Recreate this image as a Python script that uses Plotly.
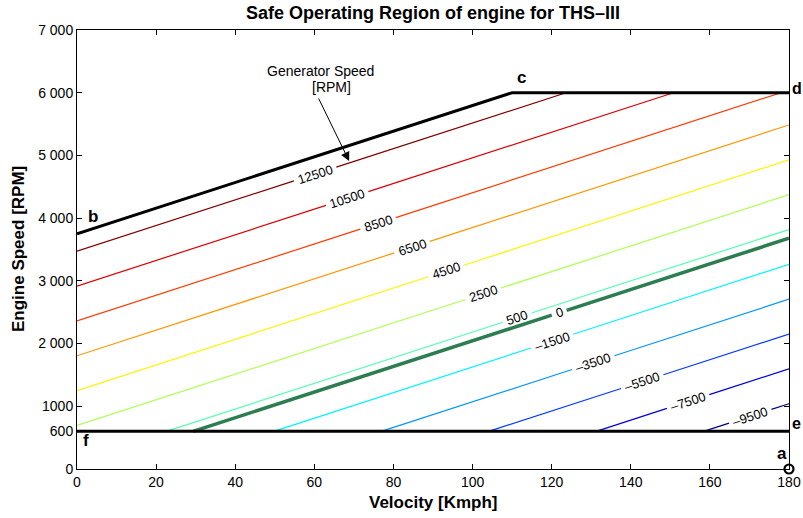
import math
import plotly.graph_objects as go

# Operating-region boundary: velocity [km/h] vs engine speed [rpm]
upper_v = [0, 110, 180]
upper_rpm = [3750, 6000, 6000]
idle_v = [0, 180]
idle_rpm = [600, 600]

# Generator-speed contour levels [rpm] and label positions along velocity
levels = [12500, 10500, 8500, 6500, 4500, 2500, 500, -1500, -3500, -5500, -7500, -9500]
label_v = [60.2, 68.3, 76.1, 84.7, 93.3, 102.7, 111.3, 120.1, 130.5, 142.9, 154.5, 170.2]
zero_level = 0
zero_label_v = 121.9

# Corner markers of the region
corner_names = ["a", "b", "c", "d", "e", "f"]
corner_v = [180, 0, 110, 180, 180, 0]
corner_rpm = [0, 3750, 6000, 6000, 600, 600]

# x / y tick labels
x_ticks = [0, 20, 40, 60, 80, 100, 120, 140, 160, 180]
y_ticks = [0, 600, 1000, 2000, 3000, 4000, 5000, 6000, 7000]
y_ticktext = ["0", "600", "1000", "2 000", "3 000", "4 000", "5 000", "6 000", "7 000"]

# Planetary relation: Ng = K_E * Ne - K_V * v
K_E = 3.6
K_V = 73.6
NE_MIN, NE_MAX = 600, 6000
V_MAX = 180

W, H = 803, 518
ML, MR, MT, MB = 77, 14, 30, 49
PW, PH = W - ML - MR, H - MT - MB
X_RANGE = (0, 180)
Y_RANGE = (0, 7000)
px_x = PW / (X_RANGE[1] - X_RANGE[0])
px_y = PH / (Y_RANGE[1] - Y_RANGE[0])
angle = math.degrees(math.atan((K_V / K_E) * px_y / px_x))

FONT = "Liberation Sans, Arial, Helvetica, sans-serif"
LABEL_SIZE = 13


def jet(t):
    def c(x):
        return max(0.0, min(1.0, x))
    r = c(1.5 - abs(4 * t - 3))
    g = c(1.5 - abs(4 * t - 2))
    b = c(1.5 - abs(4 * t - 1))
    return f"rgb({round(r * 255)},{round(g * 255)},{round(b * 255)})"


def engine_rpm(level, v):
    return (level + K_V * v) / K_E


def fmt(level):
    return ("\u2013" + str(-level)) if level < 0 else str(level)


def line_with_gap(level, lv, text):
    v0 = max(0.0, (K_E * NE_MIN - level) / K_V)
    v1 = min(V_MAX, (K_E * NE_MAX - level) / K_V)
    gap_px = len(text) * 0.556 * LABEL_SIZE * math.cos(math.radians(angle)) + 8
    g = gap_px / 2 / px_x
    xs = [v0, lv - g, None, lv + g, v1]
    ys = [engine_rpm(level, x) if x is not None else None for x in xs]
    return xs, ys


fig = go.Figure()
annotations = []

lo, hi = min(levels), max(levels)
for level, lv in zip(levels, label_v):
    text = fmt(level)
    xs, ys = line_with_gap(level, lv, text)
    color = jet((level - lo) / (hi - lo))
    fig.add_trace(go.Scatter(x=xs, y=ys, mode="lines",
                             line=dict(color=color, width=1.2),
                             hoverinfo="skip", showlegend=False))
    annotations.append(dict(x=lv, y=engine_rpm(level, lv), text=text,
                            textangle=-angle, showarrow=False,
                            xanchor="center", yanchor="middle",
                            font=dict(size=LABEL_SIZE, color="black", family=FONT)))

# zero generator-speed line
zt = fmt(zero_level)
xs, ys = line_with_gap(zero_level, zero_label_v, zt)
fig.add_trace(go.Scatter(x=xs, y=ys, mode="lines",
                         line=dict(color="rgb(44,125,80)", width=3.5),
                         hoverinfo="skip", showlegend=False))
annotations.append(dict(x=zero_label_v, y=engine_rpm(zero_level, zero_label_v), text=zt,
                        textangle=-angle, showarrow=False,
                        xanchor="center", yanchor="middle",
                        font=dict(size=LABEL_SIZE, color="black", family=FONT)))

# region boundaries
fig.add_trace(go.Scatter(x=upper_v, y=upper_rpm, mode="lines",
                         line=dict(color="black", width=3),
                         hoverinfo="skip", showlegend=False))
fig.add_trace(go.Scatter(x=idle_v, y=idle_rpm, mode="lines",
                         line=dict(color="black", width=3),
                         hoverinfo="skip", showlegend=False))
fig.add_trace(go.Scatter(x=[corner_v[0]], y=[corner_rpm[0]], mode="markers",
                         marker=dict(symbol="circle-open", size=9, color="black",
                                     line=dict(width=2.2, color="black")),
                         cliponaxis=False, hoverinfo="skip", showlegend=False))

# corner letters: (xanchor, yanchor, xshift, yshift, size)
corner_place = {
    "a": ("right", "bottom", 0, 4, 17),
    "b": ("left", "middle", 9, 17, 17),
    "c": ("center", "middle", 9, 15, 17),
    "d": ("left", "middle", 1, 4, 16),
    "e": ("left", "middle", 1, 8, 16),
    "f": ("left", "middle", 4, -9, 17),
}
for name, v, r in zip(corner_names, corner_v, corner_rpm):
    xa, ya, xs_, ys_, sz = corner_place[name]
    annotations.append(dict(x=v, y=r, text=f"<b>{name}</b>", showarrow=False,
                            xanchor=xa, yanchor=ya, xshift=xs_, yshift=ys_,
                            font=dict(size=sz, color="black", family=FONT)))

# generator speed callout
annotations.append(dict(x=61.5, y=6350, text="Generator Speed", showarrow=False,
                        xanchor="center", yanchor="middle",
                        font=dict(size=14, color="black", family=FONT)))
annotations.append(dict(x=64.3, y=6090, text="[RPM]", showarrow=False,
                        xanchor="center", yanchor="middle",
                        font=dict(size=14, color="black", family=FONT)))
annotations.append(dict(x=68.8, y=4911, ax=60.9, ay=5932, axref="x", ayref="y",
                        text="", showarrow=True, arrowhead=2, arrowsize=1.8,
                        arrowwidth=1, arrowcolor="black"))

# axis titles
annotations.append(dict(x=0.5, y=-33 / PH, xref="paper", yref="paper",
                        text="<b>Velocity [Kmph]</b>", showarrow=False,
                        xanchor="center", yanchor="middle",
                        font=dict(size=17, color="black", family=FONT)))
annotations.append(dict(x=(18.5 - ML) / PW, y=0.5, xref="paper", yref="paper",
                        text="<b>Engine Speed [RPM]</b>", showarrow=False, textangle=-90,
                        xanchor="center", yanchor="middle",
                        font=dict(size=17, color="black", family=FONT)))

axis_common = dict(showline=True, linecolor="black", linewidth=1, mirror="ticks",
                   ticks="inside", ticklen=5, tickcolor="black", tickwidth=1,
                   showgrid=False, zeroline=False, automargin=False,
                   tickfont=dict(size=14, color="black", family=FONT))

fig.update_layout(
    width=W, height=H,
    margin=dict(l=ML, r=MR, t=MT, b=MB, autoexpand=False),
    paper_bgcolor="white", plot_bgcolor="white",
    title=dict(text="<b>Safe Operating Region of engine for THS\u2013III</b>",
               x=(ML + PW / 2) / W, xanchor="center", xref="container",
               y=1 - 13 / H, yanchor="middle", yref="container",
               font=dict(size=18, color="black", family=FONT)),
    xaxis=dict(range=list(X_RANGE), tickvals=x_ticks, **axis_common),
    yaxis=dict(range=list(Y_RANGE), tickvals=y_ticks, ticktext=y_ticktext, **axis_common),
    annotations=annotations,
)

fig.write_html("out.html")
